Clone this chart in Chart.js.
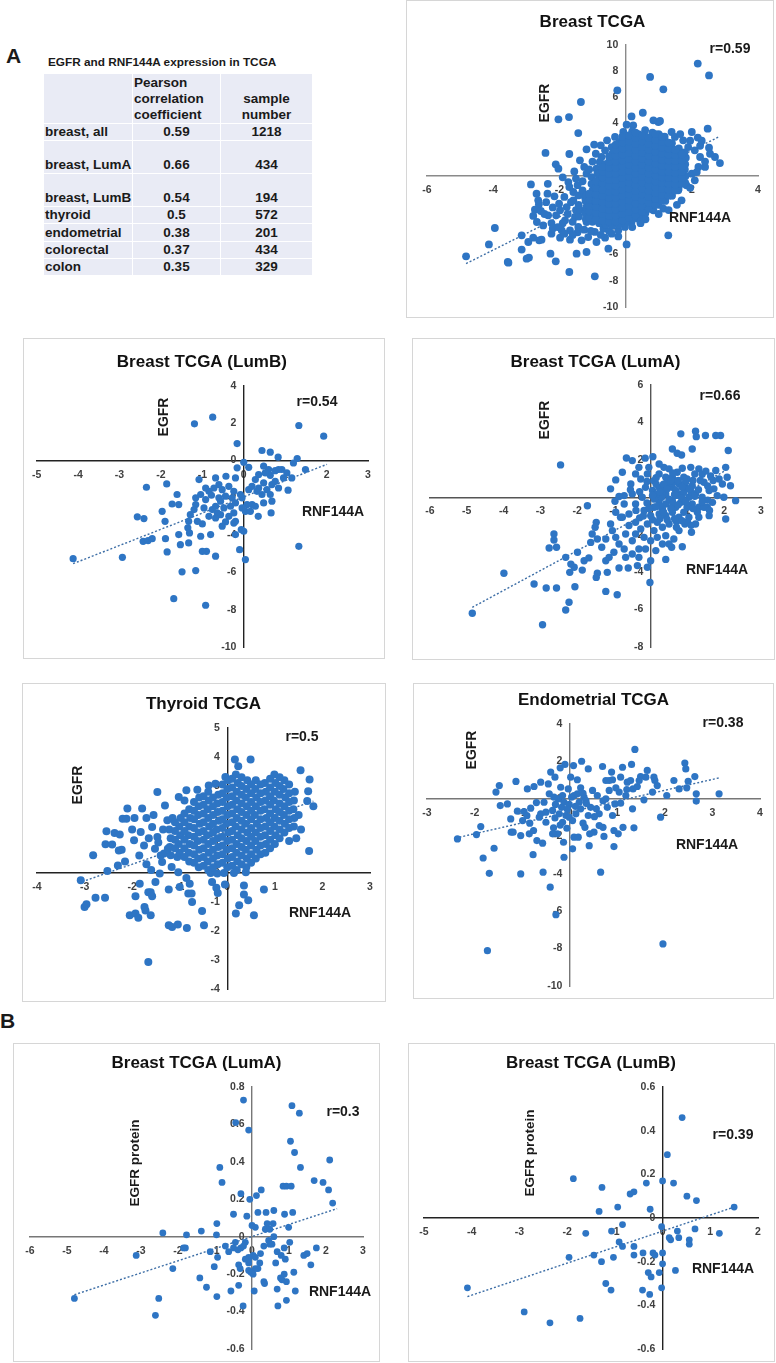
<!DOCTYPE html>
<html>
<head>
<meta charset="utf-8">
<script src="https://cdn.jsdelivr.net/npm/chart.js@4.4.0/dist/chart.umd.min.js"></script>
<style>
  body { margin: 0; width: 776px; height: 1363px; position: relative; background: #fff; font-family: 'Liberation Sans', Arial, sans-serif; color: #1a1a1a; overflow: hidden; }
  .panel { position: absolute; border: 1px solid #d6d6d6; box-sizing: border-box; background: #fff; }
  .panel canvas { display: block; }
  .letter { position: absolute; font-weight: bold; font-size: 21px; }
  #caption { position: absolute; left: 48px; top: 55px; font-weight: bold; font-size: 11.8px; white-space: nowrap; }
  #tcgaTable { position: absolute; left: 43px; top: 73px; border-collapse: collapse; table-layout: fixed; width: 269px; font-weight: bold; font-size: 13.5px; }
  #tcgaTable td { background: #e9ebf5; border: 1.5px solid #fff; padding: 0 1px; vertical-align: bottom; line-height: 16px; white-space: nowrap; overflow: visible; }
  #tcgaTable td.c { text-align: center; }
</style>
</head>
<body>
<div class="letter" style="left:6px; top:44px;">A</div>
<div class="letter" style="left:0px; top:1009px;">B</div>
<div id="caption">EGFR and RNF144A expression in TCGA</div>
<table id="tcgaTable"></table>

<script>
// ---- table data ----
const tableCancers = ['breast, all', 'breast, LumA', 'breast, LumB', 'thyroid', 'endometrial', 'colorectal', 'colon'];
const tablePearson = ['0.59', '0.66', '0.54', '0.5', '0.38', '0.37', '0.35'];
const tableSamples = ['1218', '434', '194', '572', '201', '434', '329'];

// ---- scatter data [RNF144A, EGFR] ----
const breastAll = [
  [2.18,8.58],[2.52,7.68],[0.74,7.56],[1.14,6.62],[-0.25,6.54],[-1.35,5.65],[-2.03,4.33],[-1.71,4.5],[0.52,4.83],[0.18,4.55],
  [0.03,3.92],[-1.43,3.28],[2.48,3.61],[-2.42,1.76],[-1.7,1.68],[-1.18,2.04],[-1.38,1.2],[-2.11,0.89],[-2.03,0.56],[2.85,0.99],
  [2.7,1.45],[2.52,2.16],[2.18,2.93],[2.0,3.36],[1.39,3.36],[0.99,4.12],[0.84,4.25],[1.04,4.2],
  [-2.86,-0.64],[-2.69,-1.35],[-2.36,-1.35],[-2.64,-1.86],[-2.62,-2.16],[-2.74,-2.57],[-2.56,-2.67],[-2.79,-3.05],[-2.34,-3.0],
  [-2.24,-3.59],[-2.68,-3.51],[-2.49,-3.77],[-3.95,-3.97],[-3.14,-4.53],[-2.79,-4.71],[-2.61,-4.91],[-2.54,-4.86],[-2.94,-5.04],
  [-4.13,-5.22],[-3.14,-5.62],[-2.92,-6.23],[-2.99,-6.31],[-3.56,-6.56],[-3.54,-6.62],[-4.82,-6.13],[-2.27,-5.93],[-2.11,-6.51],
  [-1.7,-7.33],[-0.93,-7.66],[-1.48,-5.93],[-1.18,-5.8],[-0.52,-5.55],[0.03,-5.22],[1.29,-4.53],[-0.62,-4.71],[-0.22,-4.61],
  [-1.93,-4.15],[-1.68,-4.86],[-1.98,-4.71],[-2.24,-4.4],[-1.83,-3.38],[-1.98,-2.62],[-1.78,-2.37],[-2.01,-2.11],[-1.58,-1.86],
  [-1.73,-0.46],[-1.7,-0.84],[-1.58,-1.22],[-1.43,-1.48],[-1.23,-1.6],[-1.18,0.18],[-1.03,-0.08],[-1.25,0.69],[-0.88,0.56],
  [-0.78,1.07],[-0.73,1.45],[-0.62,1.96],[-0.75,2.34],[-0.56,2.72],[-0.42,2.21],[-0.32,2.98],[-0.07,3.36],[0.23,3.87],
  [1.49,2.98],[1.74,2.72],[1.89,2.21],[2.09,1.96],[2.25,1.45],[2.4,0.69],[2.2,0.69],[2.0,0.18],[2.09,-0.33],[1.84,-0.71],
  [1.59,-1.09],[1.39,-1.48],[1.69,-1.86],[1.14,-2.49],[0.84,-2.62],[0.58,-2.88],[0.38,-3.26],[0.18,-3.51],[-0.02,-3.89],
  [-0.22,-4.15],[-0.42,-4.4],[-0.67,-4.02],[-0.93,-4.27],[-1.13,-4.66],[-0.88,-5.04],[-1.33,-4.91],[-1.43,-3.89],[-1.18,-3.51],
  [-1.53,-3.13],[-1.68,-4.15],[-1.03,-3.13],[-0.73,-3.38],[-0.42,-3.38],[-0.22,-3.13],
  [-2.1,-3.0],[-1.9,-3.6],[-1.75,-2.9],[-1.6,-3.5],[-1.5,-2.6],[-1.65,-2.0],[-1.85,-1.6],[-2.2,-2.4],[-2.4,-2.0],[-2.45,-2.9],
  [-2.2,-4.0],[-1.45,-4.3],[-1.25,-4.1],[-1.05,-4.2],[-0.75,-4.5],[-0.5,-4.2],[-1.6,-4.5],[-1.85,-4.4],[-2.05,-3.9],[-1.3,-1.1],
  [-1.45,-0.7],[-1.5,-0.2],[-1.3,-0.4],[-1.1,0.5],[-1.0,1.1],[-0.9,1.7],[-0.95,2.4],[-0.85,0.2],[-2.15,-1.55],[-2.35,-0.6],
  [-1.9,-0.1],[-1.55,0.35],[2.25,2.3],[2.3,2.7],[1.95,2.7],[1.65,3.2],[2.4,1.1],[2.55,1.7],[2.15,0.3],[1.95,-0.9],
  [1.55,-2.2],[1.3,-2.6],[1.0,-2.9],[0.6,-3.3],[0.2,-3.9],[0.45,-3.6],
  // dense core
  [-1.41,-3.1],[-1.38,-2.6],[-1.42,-2.2],
  [-1.2,-3.3],[-1.22,-2.8],[-1.19,-2.4],[-1.21,-1.9],[-1.18,-1.5],
  [-1.0,-3.5],[-1.02,-3.0],[-0.99,-2.5],[-1.01,-2.1],[-0.98,-1.6],[-1.0,-1.1],[-1.03,-0.6],
  [-0.8,-3.6],[-0.79,-3.1],[-0.82,-2.7],[-0.8,-2.2],[-0.81,-1.7],[-0.78,-1.3],[-0.8,-0.8],[-0.82,-0.3],[-0.79,0.2],
  [-0.6,-3.7],[-0.61,-3.2],[-0.59,-2.8],[-0.62,-2.3],[-0.6,-1.8],[-0.58,-1.4],[-0.61,-0.9],[-0.6,-0.5],[-0.62,0.0],[-0.59,0.5],[-0.61,0.9],
  [-0.4,-3.8],[-0.41,-3.3],[-0.39,-2.9],[-0.4,-2.4],[-0.42,-1.9],[-0.38,-1.5],[-0.4,-1.0],[-0.41,-0.6],[-0.39,-0.1],[-0.4,0.4],[-0.42,0.8],[-0.38,1.3],[-0.4,1.7],
  [-0.2,-3.7],[-0.21,-3.2],[-0.19,-2.8],[-0.2,-2.3],[-0.22,-1.9],[-0.18,-1.4],[-0.2,-1.0],[-0.21,-0.5],[-0.19,0.0],[-0.2,0.4],[-0.22,0.9],[-0.18,1.3],[-0.2,1.8],[-0.21,2.2],[-0.19,2.6],
  [0.0,-3.6],[0.01,-3.1],[-0.01,-2.6],[0.0,-2.2],[0.02,-1.7],[-0.02,-1.3],[0.0,-0.8],[0.01,-0.4],[-0.01,0.1],[0.0,0.5],[0.02,1.0],[-0.02,1.4],[0.0,1.9],[0.01,2.3],[-0.01,2.8],
  [0.2,-3.3],[0.21,-2.9],[0.19,-2.4],[0.2,-2.0],[0.22,-1.5],[0.18,-1.1],[0.2,-0.6],[0.21,-0.2],[0.19,0.3],[0.2,0.7],[0.22,1.2],[0.18,1.6],[0.2,2.1],[0.21,2.5],[0.19,3.0],[0.2,3.4],
  [0.4,-3.1],[0.41,-2.7],[0.39,-2.2],[0.4,-1.8],[0.42,-1.3],[0.38,-0.9],[0.4,-0.4],[0.41,0.0],[0.39,0.5],[0.4,0.9],[0.42,1.4],[0.38,1.8],[0.4,2.3],[0.41,2.7],[0.39,3.2],
  [0.6,-2.8],[0.61,-2.4],[0.59,-1.9],[0.6,-1.5],[0.62,-1.0],[0.58,-0.6],[0.6,-0.1],[0.61,0.3],[0.59,0.8],[0.6,1.2],[0.62,1.7],[0.58,2.1],[0.6,2.6],[0.61,3.0],[0.59,3.5],
  [0.8,-2.5],[0.81,-2.1],[0.79,-1.6],[0.8,-1.2],[0.82,-0.7],[0.78,-0.3],[0.8,0.2],[0.81,0.6],[0.79,1.1],[0.8,1.5],[0.82,2.0],[0.78,2.4],[0.8,2.9],[0.81,3.3],
  [1.0,-2.2],[1.01,-1.8],[0.99,-1.3],[1.0,-0.9],[1.02,-0.4],[0.98,0.0],[1.0,0.5],[1.01,0.9],[0.99,1.4],[1.0,1.8],[1.02,2.3],[0.98,2.7],[1.0,3.2],
  [1.2,-1.9],[1.21,-1.4],[1.19,-1.0],[1.2,-0.5],[1.22,-0.1],[1.18,0.4],[1.2,0.8],[1.21,1.3],[1.19,1.7],[1.2,2.2],[1.22,2.6],[1.18,3.0],
  [1.4,-1.5],[1.41,-1.1],[1.39,-0.6],[1.4,-0.2],[1.42,0.3],[1.38,0.7],[1.4,1.2],[1.41,1.6],[1.39,2.1],[1.4,2.5],
  [1.6,-1.0],[1.61,-0.6],[1.59,-0.1],[1.6,0.3],[1.62,0.8],[1.58,1.2],[1.6,1.7],[1.61,2.1],
  [1.8,-0.5],[1.81,0.0],[1.79,0.5],[1.8,0.9],[1.82,1.4],[1.78,1.8],
  [-1.1,-3.2],[-1.1,-2.7],[-1.1,-2.3],[-1.1,-1.8],[-1.1,-1.35],
  [-0.9,-3.3],[-0.9,-2.8],[-0.9,-2.35],[-0.9,-1.9],[-0.9,-1.4],[-0.9,-0.9],[-0.9,-0.4],
  [-0.7,-3.4],[-0.7,-2.9],[-0.7,-2.5],[-0.7,-2.0],[-0.7,-1.5],[-0.7,-1.05],[-0.7,-0.55],[-0.7,-0.1],[-0.7,0.35],[-0.7,0.7],
  [-0.5,-3.5],[-0.5,-3.05],[-0.5,-2.6],[-0.5,-2.1],[-0.5,-1.65],[-0.5,-1.2],[-0.5,-0.75],[-0.5,-0.3],[-0.5,0.2],[-0.5,0.65],[-0.5,1.1],[-0.5,1.5],
  [-0.3,-3.5],[-0.3,-3.0],[-0.3,-2.55],[-0.3,-2.1],[-0.3,-1.65],[-0.3,-1.2],[-0.3,-0.75],[-0.3,-0.3],[-0.3,0.2],[-0.3,0.65],[-0.3,1.1],[-0.3,1.55],[-0.3,2.0],[-0.3,2.4],
  [-0.1,-3.4],[-0.1,-2.9],[-0.1,-2.45],[-0.1,-2.0],[-0.1,-1.5],[-0.1,-1.05],[-0.1,-0.6],[-0.1,-0.15],[-0.1,0.3],[-0.1,0.75],[-0.1,1.2],[-0.1,1.65],[-0.1,2.1],[-0.1,2.55],[-0.1,3.0],
  [0.1,-3.2],[0.1,-2.75],[0.1,-2.3],[0.1,-1.85],[0.1,-1.4],[0.1,-0.95],[0.1,-0.5],[0.1,-0.05],[0.1,0.4],[0.1,0.85],[0.1,1.3],[0.1,1.75],[0.1,2.2],[0.1,2.65],[0.1,3.1],
  [0.3,-3.0],[0.3,-2.55],[0.3,-2.1],[0.3,-1.6],[0.3,-1.15],[0.3,-0.7],[0.3,-0.25],[0.3,0.2],[0.3,0.65],[0.3,1.1],[0.3,1.55],[0.3,2.0],[0.3,2.45],[0.3,2.9],[0.3,3.3],
  [0.5,-2.75],[0.5,-2.3],[0.5,-1.85],[0.5,-1.4],[0.5,-0.95],[0.5,-0.5],[0.5,-0.05],[0.5,0.4],[0.5,0.85],[0.5,1.3],[0.5,1.75],[0.5,2.2],[0.5,2.65],[0.5,3.1],
  [0.7,-2.5],[0.7,-2.05],[0.7,-1.6],[0.7,-1.15],[0.7,-0.7],[0.7,-0.25],[0.7,0.2],[0.7,0.65],[0.7,1.1],[0.7,1.55],[0.7,2.0],[0.7,2.45],[0.7,2.9],
  [0.9,-2.2],[0.9,-1.75],[0.9,-1.3],[0.9,-0.85],[0.9,-0.4],[0.9,0.05],[0.9,0.5],[0.9,0.95],[0.9,1.4],[0.9,1.85],[0.9,2.3],[0.9,2.75],[0.9,3.2],
  [1.1,-1.9],[1.1,-1.45],[1.1,-1.0],[1.1,-0.55],[1.1,-0.1],[1.1,0.35],[1.1,0.8],[1.1,1.25],[1.1,1.7],[1.1,2.15],[1.1,2.6],[1.1,3.0],
  [1.3,-1.5],[1.3,-1.05],[1.3,-0.6],[1.3,-0.15],[1.3,0.3],[1.3,0.75],[1.3,1.2],[1.3,1.65],[1.3,2.1],[1.3,2.55],
  [1.5,-1.1],[1.5,-0.65],[1.5,-0.2],[1.5,0.25],[1.5,0.7],[1.5,1.15],[1.5,1.6],[1.5,2.0],
  [1.7,-0.6],[1.7,-0.15],[1.7,0.3],[1.7,0.75],[1.7,1.2],[1.7,1.65]
];
const breastAllTrend = [[-4.82,-6.69],[2.85,3.03]];

const breastLumB = [
  [-1.19,1.97],[-0.75,2.33],[1.33,1.88],[1.93,1.31],[-0.16,0.91],[0.44,0.54],[0.64,0.45],[0.83,0.18],[1.29,0.11],[1.2,-0.13],
  [1.49,-0.48],[0.0,-0.09],[0.12,-0.36],[0.48,-0.3],[0.6,-0.48],[0.76,-0.54],[0.92,-0.48],[1.04,-0.66],[1.16,-0.93],[1.07,-1.59],
  [0.64,-0.79],[0.28,-1.02],[0.48,-1.2],[0.68,-1.29],[0.56,-1.56],[0.44,-1.82],[0.32,-1.65],[0.64,-1.82],[0.68,-2.18],[0.66,-2.81],
  [0.35,-2.99],[0.2,-2.36],[0.08,-2.36],[-0.04,-2.54],[0.12,-1.56],[-0.04,-2.0],[-0.16,-0.39],[-0.2,-0.93],[-0.43,-0.84],[-0.6,-1.29],
  [-0.72,-1.47],[-0.52,-1.56],[-0.36,-1.38],[-0.24,-1.65],[-0.28,-2.0],[-0.44,-1.91],[-0.56,-2.18],[-0.68,-2.45],[-0.48,-2.54],[-0.32,-2.45],
  [-0.24,-2.81],[-0.36,-2.99],[-0.56,-2.9],[-0.2,-3.26],[-0.24,-3.35],[-0.06,-3.7],[0.0,-3.79],[-0.2,-3.97],[-0.1,-4.78],[0.04,-5.31],
  [1.33,-4.6],[-0.68,-5.13],[-0.9,-4.87],[-1.0,-4.87],[-1.04,-4.06],[-0.8,-3.97],[-1.0,-3.4],[-0.96,-2.54],[-0.92,-2.09],[-0.84,-1.65],
  [-0.92,-1.47],[-1.08,-1.02],[-1.04,-1.82],[-1.16,-2.0],[-1.16,-2.36],[-1.2,-2.63],[-1.29,-2.9],[-1.33,-3.26],[-1.35,-3.61],[-1.31,-3.88],
  [-1.33,-4.42],[-1.53,-4.51],[-1.57,-3.97],[-1.89,-4.19],[-1.97,-2.72],[-1.9,-3.26],[-1.61,-1.82],[-1.57,-2.36],[-1.73,-2.33],[-1.86,-1.25],
  [-2.35,-1.43],[-2.57,-3.02],[-2.41,-3.11],[-2.43,-4.33],[-2.31,-4.29],[-2.21,-4.19],[-1.85,-4.9],[-1.49,-5.97],[-1.16,-5.9],[-1.69,-7.41],
  [-0.92,-7.76],[-2.93,-5.19],[-4.12,-5.26],[-0.76,-2.63],[-0.64,-2.81],[-0.44,-3.29],[-0.68,-3.08],[-0.84,-2.99],[-1.12,-3.26],[-0.52,-3.52],
  [-0.6,-2.0],[-0.78,-1.86],[-0.68,-0.93],[0.2,-1.38],[0.36,-1.47],[0.48,-2.27],[0.04,-2.72],[0.16,-2.72],[0.28,-2.45],[-0.08,-1.82],
  [-0.2,-2.27],[0.84,-0.48],[0.96,-0.93],[0.76,-1.11],[0.84,-1.47],[0.52,-0.66],[0.36,-0.75]
];
const breastLumBTrend = [[-4.12,-5.53],[2.01,-0.2]];

const breastLumA = [
  [-2.45,1.73],[-1.72,-0.45],[-3.99,-4.06],[-4.85,-6.2],[-3.17,-4.63],[-2.84,-4.85],[-2.56,-4.85],[-2.94,-6.81],[-2.31,-6.02],[-2.22,-5.61],
  [-2.06,-4.78],[-2.63,-1.96],[-2.63,-2.28],[-2.76,-2.71],[-2.56,-2.67],[-2.31,-3.21],[-2.17,-3.57],[-2.2,-4.01],[-2.08,-3.74],[-1.86,-3.89],
  [-1.99,-2.94],[-1.81,-3.39],[-1.68,-3.24],[-1.45,-4.06],[-1.48,-4.28],[-1.22,-5.03],[-1.18,-4.01],[-0.91,-5.21],[-0.86,-3.78],[-0.61,-3.78],
  [-0.36,-3.65],[-0.09,-3.74],[-0.02,-4.55],[0.41,-3.32],[-1.48,-1.34],[-1.51,-1.6],[-1.59,-1.96],[-1.63,-2.41],[-1.45,-2.23],[-1.33,-2.67],
  [-1.22,-2.23],[-1.09,-1.43],[-1.04,-1.78],[-0.95,-2.14],[-0.86,-2.5],[-0.72,-2.76],[-1.0,-2.94],[-1.13,-3.21],[-1.22,-3.39],[-0.68,-3.21],
  [-0.5,-3.03],[-0.32,-2.76],[-0.32,-3.21],[-0.14,-2.76],[-1.09,0.45],[-0.95,0.93],[-0.77,1.34],[-0.66,2.1],[-0.5,1.96],[-0.32,1.6],
  [-0.15,2.09],[0.06,2.17],[-0.97,-0.21],[-0.72,0.09],[-0.72,-0.36],[-0.54,0.71],[-0.5,0.18],[-0.41,-0.36],[-0.59,-0.89],[-0.82,-1.07],
  [-0.41,-1.34],[-0.27,-1.69],[-0.09,-1.43],[0.0,-2.32],[0.09,-1.78],[0.32,-2.5],[0.14,-2.85],[0.57,-2.67],[0.86,-2.64],[0.63,-2.23],
  [0.77,-1.78],[1.11,-1.87],[0.93,-1.43],[1.31,-1.07],[1.54,-0.53],[1.59,-0.98],[1.99,0.0],[2.04,-1.16],[2.31,-0.18],[2.17,0.62],
  [2.08,1.07],[2.04,1.6],[2.11,2.5],[1.9,3.3],[1.77,3.3],[1.49,3.3],[1.22,3.53],[1.24,3.24],[0.82,3.39],[0.59,2.58],
  [0.72,2.35],[0.84,2.26],[1.13,2.58],[0.86,1.55],[1.09,1.6],[1.31,1.52],[1.4,1.23],[1.63,1.14],[1.86,0.98],[1.95,0.71],
  [1.72,0.45],[1.81,0.09],[1.68,-0.27],[1.4,0.0],[1.22,0.18],[1.13,0.62],[0.99,0.98],[0.77,0.71],[0.59,1.07],[0.36,1.6],
  [0.23,1.25],[0.09,0.89],[0.05,0.36],[0.23,0.53],[0.41,0.18],[0.59,0.53],[0.77,0.18],[0.95,0.53],[1.13,-0.36],[1.31,-0.53],
  [0.99,-0.53],[0.82,-0.27],[0.59,-0.18],[0.41,-0.36],[0.23,-0.18],[0.09,-0.53],[0.23,-0.89],[0.41,-0.98],[0.59,-0.8],[0.77,-1.07],
  [1.04,-1.07],[1.22,-1.43],[0.5,-1.43],[0.32,-1.6],[0.18,-1.34],[0.0,-0.98],[-0.18,-0.71],[-0.23,0.0],[-0.14,0.53],[-0.27,0.98],
  [-0.41,1.25],[-0.09,1.25],[0.23,1.78],[0.5,1.52],[-0.05,1.6],[-0.86,0.04],[-0.77,-1.07],[-0.41,-1.96],[-0.18,-2.14],[0.18,-2.14],
  [0.41,-2.05],[0.5,-2.5],[0.0,-3.39],[-0.5,-2.32],[-0.68,-1.96],[-0.59,-1.51],[-0.95,-0.8],[1.59,0.36],[1.45,0.8],[1.77,1.43],
  [0.72,1.34],[0.9,1.07],[0.41,1.07],[0.5,0.71],[0.68,0.36],[1.04,0.0],[1.45,-0.53],[0.32,-0.62],[0.68,-0.53],[0.9,-0.8],
  [1.27,-0.8],[0.3,0.0],[0.5,-0.1],[0.7,0.1],[0.9,0.25],[1.1,0.3],[0.15,0.15],[0.6,-0.35],[0.85,-0.05],[1.3,0.4],
  [0.45,0.85],[0.65,0.85],[0.25,-0.45],[1.55,-0.15],[1.0,-1.3],[0.7,-1.3],[-0.3,-1.1],[-0.1,-0.3],[0.1,-0.1],[0.35,0.35],
  [0.15,0.7],[0.35,0.7],[0.55,0.9],[0.75,0.9],[0.95,0.8],[1.15,0.9],[1.35,0.9],[1.55,0.6],[1.05,0.45],[0.85,0.55],
  [0.45,0.45],[0.25,0.3],[0.05,0.1],[0.65,0.15],[1.2,0.05],[1.4,-0.25],[1.6,-0.7],[1.15,-0.6],[0.95,-0.25],[0.75,-0.4],
  [0.55,-0.6],[0.35,-0.8],[0.15,-0.5],[-0.05,-0.6],[0.05,-1.2],[0.25,-1.15],[0.45,-1.2],[0.65,-1.15],[0.85,-1.25],[1.1,-1.5],
  [0.7,-1.6],[-0.2,-1.0],[-0.4,-0.7],[-0.3,0.3],[-0.55,0.4],[-0.1,0.85],[0.15,1.05],[0.6,1.3],[1.2,1.25],[1.5,1.4],[1.7,0.9]
];
const breastLumATrend = [[-4.85,-5.88],[2.04,1.43]];

const thyroid = [
  [-3.08,-0.25],[-3.0,-1.17],[-2.96,-1.08],[-2.82,0.61],[-2.77,-0.85],[-2.57,-0.85],[-2.52,0.07],[-2.56,0.99],[-2.54,1.44],[-2.37,1.38],
  [-2.42,0.98],[-2.26,1.33],[-2.28,0.78],[-2.22,0.8],[-2.3,0.26],[-2.2,1.87],[-2.12,1.87],[-2.1,2.22],[-1.96,1.13],[-1.82,1.41],
  [-1.79,2.22],[-1.7,1.9],[-1.75,0.95],[-1.84,-0.37],[-1.93,-0.8],[-2.05,-1.46],[-1.93,-1.4],[-1.87,-1.54],[-1.74,-1.17],[-1.72,-1.29],
  [-1.66,-0.66],[-1.61,-0.66],[-1.61,-1.46],[-1.58,-0.8],[-1.66,-3.07],[-1.51,-0.31],[-1.47,2.79],[-1.58,1.59],[-1.47,1.24],[-1.52,0.84],
  [-1.42,-0.02],[-1.31,2.33],[-1.26,1.82],[-1.37,0.38],[-1.33,0.67],[-1.23,-0.57],[-1.23,-1.8],[-1.16,-1.86],[-1.04,-1.78],[-0.85,-1.9],
  [-1.25,0.84],[-1.19,0.61],[-1.17,0.21],[-1.05,0.55],[-1.03,0.03],[-1.0,-0.48],[-0.86,-0.17],[-0.82,-0.71],[-0.74,-1.0],[-0.79,-0.37],
  [-0.75,-0.71],[-0.53,-1.31],[-0.49,-1.8],[-0.35,0.0],[-0.32,-0.31],[-0.23,-0.51],[-0.2,-0.69],[0.18,-1.4],[0.25,-1.11],[0.35,-0.43],
  [0.35,-0.74],[0.44,-0.94],[0.56,-1.46],[0.77,-0.57],[1.72,0.76],[1.73,3.22],[1.54,3.54],[1.81,2.3],[1.68,2.48],[1.7,2.82],
  [0.16,3.91],[0.49,3.91],[0.23,3.68],[-0.04,3.31],[-0.25,3.08],[-0.39,3.02],[-0.63,2.87],[-0.86,2.85],[-1.02,2.62],[-0.21,-0.02],
  [-0.07,0.0],[0.14,0.0],[0.39,0.03],[-0.05,-0.4],[1.5,2.0],[1.55,1.5],[1.45,1.2],[1.3,1.1],[-1.15,1.9],[-0.9,2.5],
  [-2.0,1.5],[-1.85,0.6],[-1.65,1.2],[-1.55,2.0],[-1.4,0.6],[-1.35,1.5],[-2.15,0.4],[-1.7,0.3],[-1.95,1.9],[-1.6,0.1],[-1.45,1.05],
  // dense core
  [-1.21,0.9],[-1.19,1.2],[-1.22,1.5],
  [-1.0,0.7],[-1.02,1.0],[-0.99,1.3],[-1.01,1.6],[-0.98,1.9],
  [-0.8,0.4],[-0.81,0.7],[-0.79,1.0],[-0.82,1.3],[-0.8,1.6],[-0.78,1.9],[-0.8,2.2],
  [-0.6,0.2],[-0.61,0.5],[-0.59,0.8],[-0.62,1.1],[-0.6,1.4],[-0.58,1.7],[-0.61,2.0],[-0.6,2.3],[-0.59,2.6],
  [-0.4,0.1],[-0.41,0.4],[-0.39,0.7],[-0.4,1.0],[-0.42,1.3],[-0.38,1.6],[-0.4,1.9],[-0.41,2.2],[-0.39,2.5],[-0.4,2.8],
  [-0.2,0.3],[-0.21,0.6],[-0.19,0.9],[-0.2,1.2],[-0.22,1.5],[-0.18,1.8],[-0.2,2.1],[-0.21,2.4],[-0.19,2.7],
  [0.0,0.2],[0.01,0.5],[-0.01,0.8],[0.0,1.1],[0.02,1.4],[-0.02,1.7],[0.0,2.0],[0.01,2.3],[-0.01,2.6],[0.0,2.9],[0.02,3.2],
  [0.2,0.1],[0.21,0.4],[0.19,0.7],[0.2,1.0],[0.22,1.3],[0.18,1.6],[0.2,1.9],[0.21,2.2],[0.19,2.5],[0.2,2.8],[0.22,3.1],[0.18,3.4],
  [0.4,0.2],[0.41,0.5],[0.39,0.8],[0.4,1.1],[0.42,1.4],[0.38,1.7],[0.4,2.0],[0.41,2.3],[0.39,2.6],[0.4,2.9],[0.42,3.2],
  [0.6,0.5],[0.61,0.8],[0.59,1.1],[0.6,1.4],[0.62,1.7],[0.58,2.0],[0.6,2.3],[0.61,2.6],[0.59,2.9],[0.6,3.2],
  [0.8,0.7],[0.81,1.0],[0.79,1.3],[0.8,1.6],[0.82,1.9],[0.78,2.2],[0.8,2.5],[0.81,2.8],[0.79,3.1],
  [1.0,1.0],[1.01,1.3],[0.99,1.6],[1.0,1.9],[1.02,2.2],[0.98,2.5],[1.0,2.8],[1.01,3.1],[0.99,3.4],
  [1.2,1.4],[1.21,1.7],[1.19,2.0],[1.2,2.3],[1.22,2.6],[1.18,2.9],[1.2,3.2],
  [1.4,1.6],[1.41,1.9],[1.39,2.2],[1.4,2.5],[1.42,2.8],
  [-1.1,0.85],[-1.1,1.15],[-1.1,1.45],[-1.1,1.75],
  [-0.9,0.55],[-0.9,0.85],[-0.9,1.15],[-0.9,1.45],[-0.9,1.75],[-0.9,2.05],
  [-0.7,0.35],[-0.7,0.65],[-0.7,0.95],[-0.7,1.25],[-0.7,1.55],[-0.7,1.85],[-0.7,2.15],[-0.7,2.45],
  [-0.5,0.25],[-0.5,0.55],[-0.5,0.85],[-0.5,1.15],[-0.5,1.45],[-0.5,1.75],[-0.5,2.05],[-0.5,2.35],[-0.5,2.65],
  [-0.3,0.2],[-0.3,0.5],[-0.3,0.8],[-0.3,1.1],[-0.3,1.4],[-0.3,1.7],[-0.3,2.0],[-0.3,2.3],[-0.3,2.6],
  [-0.1,0.35],[-0.1,0.65],[-0.1,0.95],[-0.1,1.25],[-0.1,1.55],[-0.1,1.85],[-0.1,2.15],[-0.1,2.45],[-0.1,2.75],[-0.1,3.05],
  [0.1,0.25],[0.1,0.55],[0.1,0.85],[0.1,1.15],[0.1,1.45],[0.1,1.75],[0.1,2.05],[0.1,2.35],[0.1,2.65],[0.1,2.95],[0.1,3.25],
  [0.3,0.3],[0.3,0.6],[0.3,0.9],[0.3,1.2],[0.3,1.5],[0.3,1.8],[0.3,2.1],[0.3,2.4],[0.3,2.7],[0.3,3.0],[0.3,3.3],
  [0.5,0.35],[0.5,0.65],[0.5,0.95],[0.5,1.25],[0.5,1.55],[0.5,1.85],[0.5,2.15],[0.5,2.45],[0.5,2.75],[0.5,3.05],
  [0.7,0.65],[0.7,0.95],[0.7,1.25],[0.7,1.55],[0.7,1.85],[0.7,2.15],[0.7,2.45],[0.7,2.75],[0.7,3.05],
  [0.9,0.85],[0.9,1.15],[0.9,1.45],[0.9,1.75],[0.9,2.05],[0.9,2.35],[0.9,2.65],[0.9,2.95],[0.9,3.25],
  [1.1,1.2],[1.1,1.5],[1.1,1.8],[1.1,2.1],[1.1,2.4],[1.1,2.7],[1.1,3.0],[1.1,3.3],
  [1.3,1.55],[1.3,1.85],[1.3,2.15],[1.3,2.45],[1.3,2.75],[1.3,3.05]
];
const thyroidTrend = [[-3.05,-0.3],[1.81,2.48]];

const endometrial = [
  [-2.36,-2.14],[-1.96,-1.91],[-1.87,-1.48],[-1.82,-3.16],[-1.69,-3.98],[-1.73,-8.11],[-1.59,-2.64],[-1.55,0.36],[-1.48,0.71],[-1.46,-0.36],
  [-1.31,-0.27],[-1.24,-1.07],[-1.23,-1.78],[-1.19,-1.78],[-1.13,0.93],[-1.1,-0.66],[-1.03,-1.96],[-1.03,-4.01],[-0.96,-0.68],[-0.89,0.53],
  [-0.84,-1.3],[-0.82,-0.5],[-0.85,-1.87],[-0.77,-2.98],[-0.75,0.66],[-0.69,-2.23],[-0.64,-0.98],[-0.61,0.89],[-0.61,-0.8],[-0.57,-2.37],
  [-0.56,-3.92],[-0.54,-0.18],[-0.5,-1.25],[-0.45,0.8],[-0.41,-4.72],[-0.4,1.43],[-0.36,-0.62],[-0.34,-1.55],[-0.31,1.16],[-0.31,-1.02],
  [-0.29,-6.19],[-0.26,-1.87],[-0.24,0.0],[-0.2,1.66],[-0.19,0.62],[-0.17,-0.45],[-0.15,-1.25],[-0.13,-2.32],[-0.12,-3.12],[-0.1,1.84],
  [-0.08,-0.89],[-0.06,-1.57],[-0.03,0.53],[-0.01,-0.98],[0.02,1.16],[0.04,0.09],[0.06,-2.67],[0.08,1.78],[0.09,-2.05],[0.13,-0.8],
  [0.16,1.02],[0.18,-2.05],[0.2,-0.18],[0.23,0.59],[0.25,2.01],[0.28,-1.3],[0.3,0.09],[0.34,-0.09],[0.39,1.6],[0.39,-0.89],
  [0.41,-2.5],[0.42,-1.87],[0.48,0.45],[0.51,-1.78],[0.56,-0.53],[0.58,0.18],[0.62,-0.8],[0.65,-3.92],[0.69,1.73],[0.7,-1.52],
  [0.72,-2.01],[0.76,0.0],[0.79,-0.45],[0.83,0.45],[0.88,1.43],[0.9,1.02],[0.93,-1.69],[0.93,-2.55],[0.95,-0.27],[1.02,-1.87],
  [1.04,0.36],[1.07,-0.23],[1.07,1.16],[1.11,1.69],[1.12,-1.52],[1.18,0.18],[1.21,0.89],[1.28,0.98],[1.3,1.84],[1.33,0.53],
  [1.35,-1.55],[1.37,2.64],[1.42,0.66],[1.49,1.19],[1.56,-0.05],[1.6,1.16],[1.63,1.52],[1.74,0.36],[1.77,1.16],[1.79,0.98],
  [1.84,0.71],[1.91,-0.98],[1.96,-7.75],[2.04,0.18],[2.19,0.98],[2.3,0.53],[2.42,1.91],[2.44,1.6],[2.46,0.59],[2.49,0.94],
  [2.63,1.19],[2.66,0.27],[2.66,-0.12],[3.14,0.27],[-0.43,0.27],[-0.33,0.09],[-0.15,0.18],[-0.12,-0.18],[-0.01,-0.3],[0.09,0.18],
  [0.23,-0.53],[0.44,-0.45],[0.9,-0.89],[1.32,-0.53],[0.62,-1.43],[0.32,-1.52],[0.83,0.98],[0.97,0.59],[1.46,0.98],[0.76,0.98],
  [0.16,0.27],[-0.22,-0.8],[0.06,-1.16],[-0.36,-1.87],[-0.5,-0.71],[-0.76,-1.69],[-0.99,-1.16],[-0.05,-0.55],[0.12,-0.4],[0.35,-0.25],
  [-0.3,-0.3],[-0.7,-0.2],[0.52,-0.95],[0.28,0.3],[-0.2,-1.4],[0.7,-0.1],[1.2,0.5],[-0.9,-0.9]
];
const endometrialTrend = [[-2.32,-2.05],[3.14,1.12]];

const proteinLumA = [
  [-0.23,0.73],[1.08,0.7],[1.28,0.66],[-0.44,0.61],[-0.09,0.57],[1.04,0.51],[1.15,0.45],[-0.87,0.37],[1.31,0.37],[2.1,0.41],
  [-0.81,0.29],[-0.3,0.23],[1.68,0.3],[1.92,0.29],[2.07,0.25],[0.84,0.27],[0.93,0.27],[1.06,0.27],[0.25,0.25],[0.12,0.22],
  [-0.06,0.2],[2.18,0.18],[-0.5,0.12],[-0.14,0.11],[0.16,0.13],[0.38,0.13],[0.59,0.14],[0.88,0.12],[1.1,0.13],[-0.95,0.07],
  [0.99,0.05],[0.41,0.07],[0.57,0.07],[0.0,0.06],[0.09,0.05],[0.36,0.04],[0.48,0.04],[-2.41,0.02],[-1.77,0.01],[-1.37,0.03],
  [-0.96,0.01],[0.59,0.0],[-0.18,-0.03],[-0.45,-0.03],[-0.72,-0.05],[-0.93,-0.11],[-0.63,-0.08],[-0.5,-0.06],[-0.38,-0.07],[-0.3,-0.06],
  [-0.23,-0.05],[-0.09,-0.11],[0.03,-0.1],[0.09,-0.11],[-0.09,-0.14],[-0.09,-0.12],[0.23,-0.09],[0.32,-0.05],[0.45,-0.02],[0.48,-0.04],
  [0.54,-0.04],[0.68,-0.08],[0.79,-0.1],[0.87,-0.06],[1.02,-0.03],[0.9,-0.12],[1.4,-0.1],[1.49,-0.09],[1.74,-0.06],[1.59,-0.15],
  [0.64,-0.14],[0.21,-0.14],[0.16,-0.17],[0.09,-0.17],[-0.03,-0.19],[0.03,-0.2],[-0.36,-0.15],[-1.02,-0.16],[-1.13,-0.08],[-1.8,-0.06],
  [-1.85,-0.06],[-3.13,-0.1],[-2.14,-0.17],[-1.41,-0.22],[-1.23,-0.27],[-0.95,-0.32],[-0.57,-0.29],[-0.36,-0.26],[0.06,-0.29],[0.32,-0.24],
  [0.34,-0.25],[0.68,-0.28],[0.77,-0.22],[0.81,-0.23],[0.87,-0.2],[0.93,-0.24],[1.13,-0.19],[1.17,-0.29],[0.93,-0.34],[0.7,-0.37],
  [-0.24,-0.37],[-2.52,-0.33],[-2.61,-0.42],[-4.8,-0.33],[-0.09,-0.18],[-0.18,-0.12],[-0.32,-0.17]
];
const proteinLumATrend = [[-4.8,-0.31],[2.3,0.15]];

const proteinLumB = [
  [0.41,0.46],[0.1,0.29],[-1.87,0.18],[-1.27,0.14],[-0.34,0.16],[0.0,0.17],[0.23,0.16],[-0.68,0.11],[-0.6,0.12],[0.51,0.1],
  [0.71,0.08],[-0.94,0.05],[-0.26,0.04],[-1.33,0.03],[1.5,0.05],[-0.84,-0.03],[-1.61,-0.07],[-1.07,-0.06],[-0.02,-0.04],[0.31,-0.06],
  [0.68,-0.05],[1.19,-0.07],[0.14,-0.09],[0.17,-0.1],[0.34,-0.09],[0.56,-0.1],[0.56,-0.12],[-0.91,-0.11],[-0.84,-0.13],[-0.6,-0.13],
  [-0.41,-0.16],[-0.2,-0.16],[-0.16,-0.17],[0.0,-0.16],[-1.44,-0.17],[-0.6,-0.17],[-1.96,-0.18],[-1.28,-0.2],[-1.03,-0.18],[0.0,-0.21],
  [0.27,-0.24],[-0.3,-0.25],[-0.07,-0.25],[-0.24,-0.27],[-1.19,-0.3],[-1.08,-0.33],[-0.42,-0.33],[-0.27,-0.35],[-0.02,-0.32],[-4.09,-0.32],
  [-2.9,-0.43],[-2.36,-0.48],[-1.73,-0.46]
];
const proteinLumBTrend = [[-4.09,-0.36],[1.5,0.05]];

// ---- axis ranges [min, max, step] ----
const axisBreastAll = { x: [-6, 4, 2], y: [-10, 10, 2] };
const axisLumB = { x: [-5, 3, 1], y: [-10, 4, 2] };
const axisLumA = { x: [-6, 3, 1], y: [-8, 6, 2] };
const axisThyroid = { x: [-4, 3, 1], y: [-4, 5, 1] };
const axisEndometrial = { x: [-3, 4, 1], y: [-10, 4, 2] };
const axisProtLumA = { x: [-6, 3, 1], y: [-0.6, 0.8, 0.2] };
const axisProtLumB = { x: [-5, 2, 1], y: [-0.6, 0.6, 0.2] };

// build the table
const tbl = document.getElementById('tcgaTable');
const colW = [87, 86, 90];
const rowH = [50, 17, 33, 33, 17, 18, 17, 16];
let html = '<colgroup>' + colW.map(w => '<col style="width:' + (w + 2) + 'px">').join('') + '</colgroup>';
html += '<tr style="height:' + rowH[0] + 'px"><td></td><td>Pearson<br>correlation<br>coefficient</td><td class="c">sample<br>number</td></tr>';
for (let i = 0; i < tableCancers.length; i++) {
  html += '<tr style="height:' + rowH[i + 1] + 'px"><td>' + tableCancers[i] + '</td><td class="c">' + tablePearson[i] +
    '</td><td class="c">' + tableSamples[i] + '</td></tr>';
}
tbl.innerHTML = html;

const FONT = "'Liberation Sans', Arial, sans-serif";

// text labels drawn on top of each chart (axis names and r value)
function textPlugin(items) {
  return {
    id: 'panelText',
    afterDraw(chart) {
      const ctx = chart.ctx;
      items.forEach(t => {
        ctx.save();
        ctx.font = t.font;
        ctx.fillStyle = '#1a1a1a';
        ctx.textAlign = 'center';
        ctx.textBaseline = 'middle';
        ctx.translate(t.x, t.y);
        if (t.rotate) ctx.rotate(-Math.PI / 2);
        ctx.fillText(t.text, 0, 0);
        ctx.restore();
      });
    }
  };
}

const fmtTick = v => String(Math.round(v * 10) / 10);

function drawPanel(p) {
  const [bx, by, bw, bh] = p.box;
  const div = document.createElement('div');
  div.className = 'panel';
  div.style.left = bx + 'px'; div.style.top = by + 'px';
  div.style.width = bw + 'px'; div.style.height = bh + 'px';
  const canvas = document.createElement('canvas');
  const cw = bw - 2, ch = bh - 2;
  canvas.width = cw; canvas.height = ch;
  canvas.style.width = cw + 'px'; canvas.style.height = ch + 'px';
  div.appendChild(canvas);
  document.body.appendChild(div);

  const ox = bx + 1, oy = by + 1;
  const [pl, pr, pt, pb] = p.plot;
  const tTop = p.titleY - oy - 10.2;
  const tBottom = (pt - oy) - tTop - 20.4;

  const labels = [
    { text: p.yLabel, x: p.yPos[0] - ox, y: p.yPos[1] - oy, rotate: true, font: p.yFont || ('bold 14px ' + FONT) },
    { text: 'RNF144A', x: p.xPos[0] - ox, y: p.xPos[1] - oy, font: 'bold 14px ' + FONT },
    { text: p.r, x: p.rPos[0] - ox, y: p.rPos[1] - oy, font: 'bold 14px ' + FONT }
  ];

  const tickFont = { family: FONT, size: 10.5, weight: 'bold' };
  new Chart(canvas, {
    data: {
      datasets: [
        {
          type: 'scatter',
          data: p.points.map(d => ({ x: d[0], y: d[1] })),
          backgroundColor: '#2e75c4',
          borderWidth: 0,
          pointRadius: p.radius || 3.6,
          order: 0
        },
        {
          type: 'line',
          data: p.trend.map(d => ({ x: d[0], y: d[1] })),
          borderColor: '#3d6ea6',
          borderWidth: 1.4,
          borderDash: [2, 2],
          pointRadius: 0,
          fill: false,
          order: 1
        }
      ]
    },
    options: {
      responsive: false,
      animation: false,
      layout: { padding: { left: pl - ox, right: ox + cw - pr, top: 0, bottom: oy + ch - pb } },
      plugins: {
        legend: { display: false },
        tooltip: { enabled: false },
        title: {
          display: true, text: p.title, color: '#111',
          font: { family: FONT, size: 17, weight: 'bold' },
          padding: { top: tTop, bottom: tBottom }
        }
      },
      scales: {
        x: {
          type: 'linear', position: { y: 0 },
          min: p.axis.x[0], max: p.axis.x[1],
          ticks: { stepSize: p.axis.x[2], font: tickFont, color: '#404040', padding: 8, maxRotation: 0, autoSkip: false, callback: fmtTick },
          grid: { display: false, drawTicks: false },
          border: { color: p.axisColor, width: 1.4 }
        },
        y: {
          type: 'linear', position: { x: 0 },
          min: p.axis.y[0], max: p.axis.y[1],
          ticks: { stepSize: p.axis.y[2], font: tickFont, color: '#404040', autoSkip: false, callback: v => fmtTick(v) + '\u2002\u2009' },
          grid: { display: false, drawTicks: false },
          border: { color: p.axisColor, width: 1.4 }
        }
      }
    },
    plugins: [textPlugin(labels)]
  });
}

drawPanel({ box: [406, 0, 368, 318], plot: [427, 758, 45, 307], titleY: 22, title: 'Breast TCGA', radius: 3.9,
  points: breastAll, trend: breastAllTrend, axis: axisBreastAll, axisColor: '#8a8a8a',
  yLabel: 'EGFR', yPos: [545, 103], xPos: [700, 218], r: 'r=0.59', rPos: [730, 49] });

drawPanel({ box: [23, 338, 362, 321], plot: [35.7, 368, 386, 647], titleY: 362, title: 'Breast TCGA (LumB)',
  points: breastLumB, trend: breastLumBTrend, axis: axisLumB, axisColor: '#222',
  yLabel: 'EGFR', yPos: [164, 417], xPos: [333, 512], r: 'r=0.54', rPos: [317, 402] });

drawPanel({ box: [412, 338, 363, 322], plot: [430, 761, 385, 647], titleY: 362, title: 'Breast TCGA (LumA)', radius: 3.7,
  points: breastLumA, trend: breastLumATrend, axis: axisLumA, axisColor: '#555',
  yLabel: 'EGFR', yPos: [545, 420], xPos: [717, 570], r: 'r=0.66', rPos: [720, 396] });

drawPanel({ box: [22, 683, 364, 319], plot: [37, 370, 728, 989], titleY: 704, title: 'Thyroid TCGA', radius: 4.0,
  points: thyroid, trend: thyroidTrend, axis: axisThyroid, axisColor: '#222',
  yLabel: 'EGFR', yPos: [78, 785], xPos: [320, 913], r: 'r=0.5', rPos: [302, 737] });

drawPanel({ box: [413, 683, 361, 316], plot: [427, 760, 724, 986], titleY: 700, title: 'Endometrial TCGA',
  points: endometrial, trend: endometrialTrend, axis: axisEndometrial, axisColor: '#777',
  yLabel: 'EGFR', yPos: [472, 750], xPos: [707, 845], r: 'r=0.38', rPos: [723, 723] });

drawPanel({ box: [13, 1043, 367, 319], plot: [30, 363, 1087, 1349], titleY: 1063, title: 'Breast TCGA (LumA)', radius: 3.4,
  points: proteinLumA, trend: proteinLumATrend, axis: axisProtLumA, axisColor: '#777',
  yLabel: 'EGFR protein', yFont: 'bold 13.5px ' + FONT, yPos: [135, 1163], xPos: [340, 1292], r: 'r=0.3', rPos: [343, 1112] });

drawPanel({ box: [408, 1043, 367, 319], plot: [424, 758, 1087, 1349], titleY: 1063, title: 'Breast TCGA (LumB)', radius: 3.4,
  points: proteinLumB, trend: proteinLumBTrend, axis: axisProtLumB, axisColor: '#222',
  yLabel: 'EGFR protein', yFont: 'bold 13.5px ' + FONT, yPos: [530, 1153], xPos: [723, 1269], r: 'r=0.39', rPos: [733, 1135] });
</script>
</body>
</html>
